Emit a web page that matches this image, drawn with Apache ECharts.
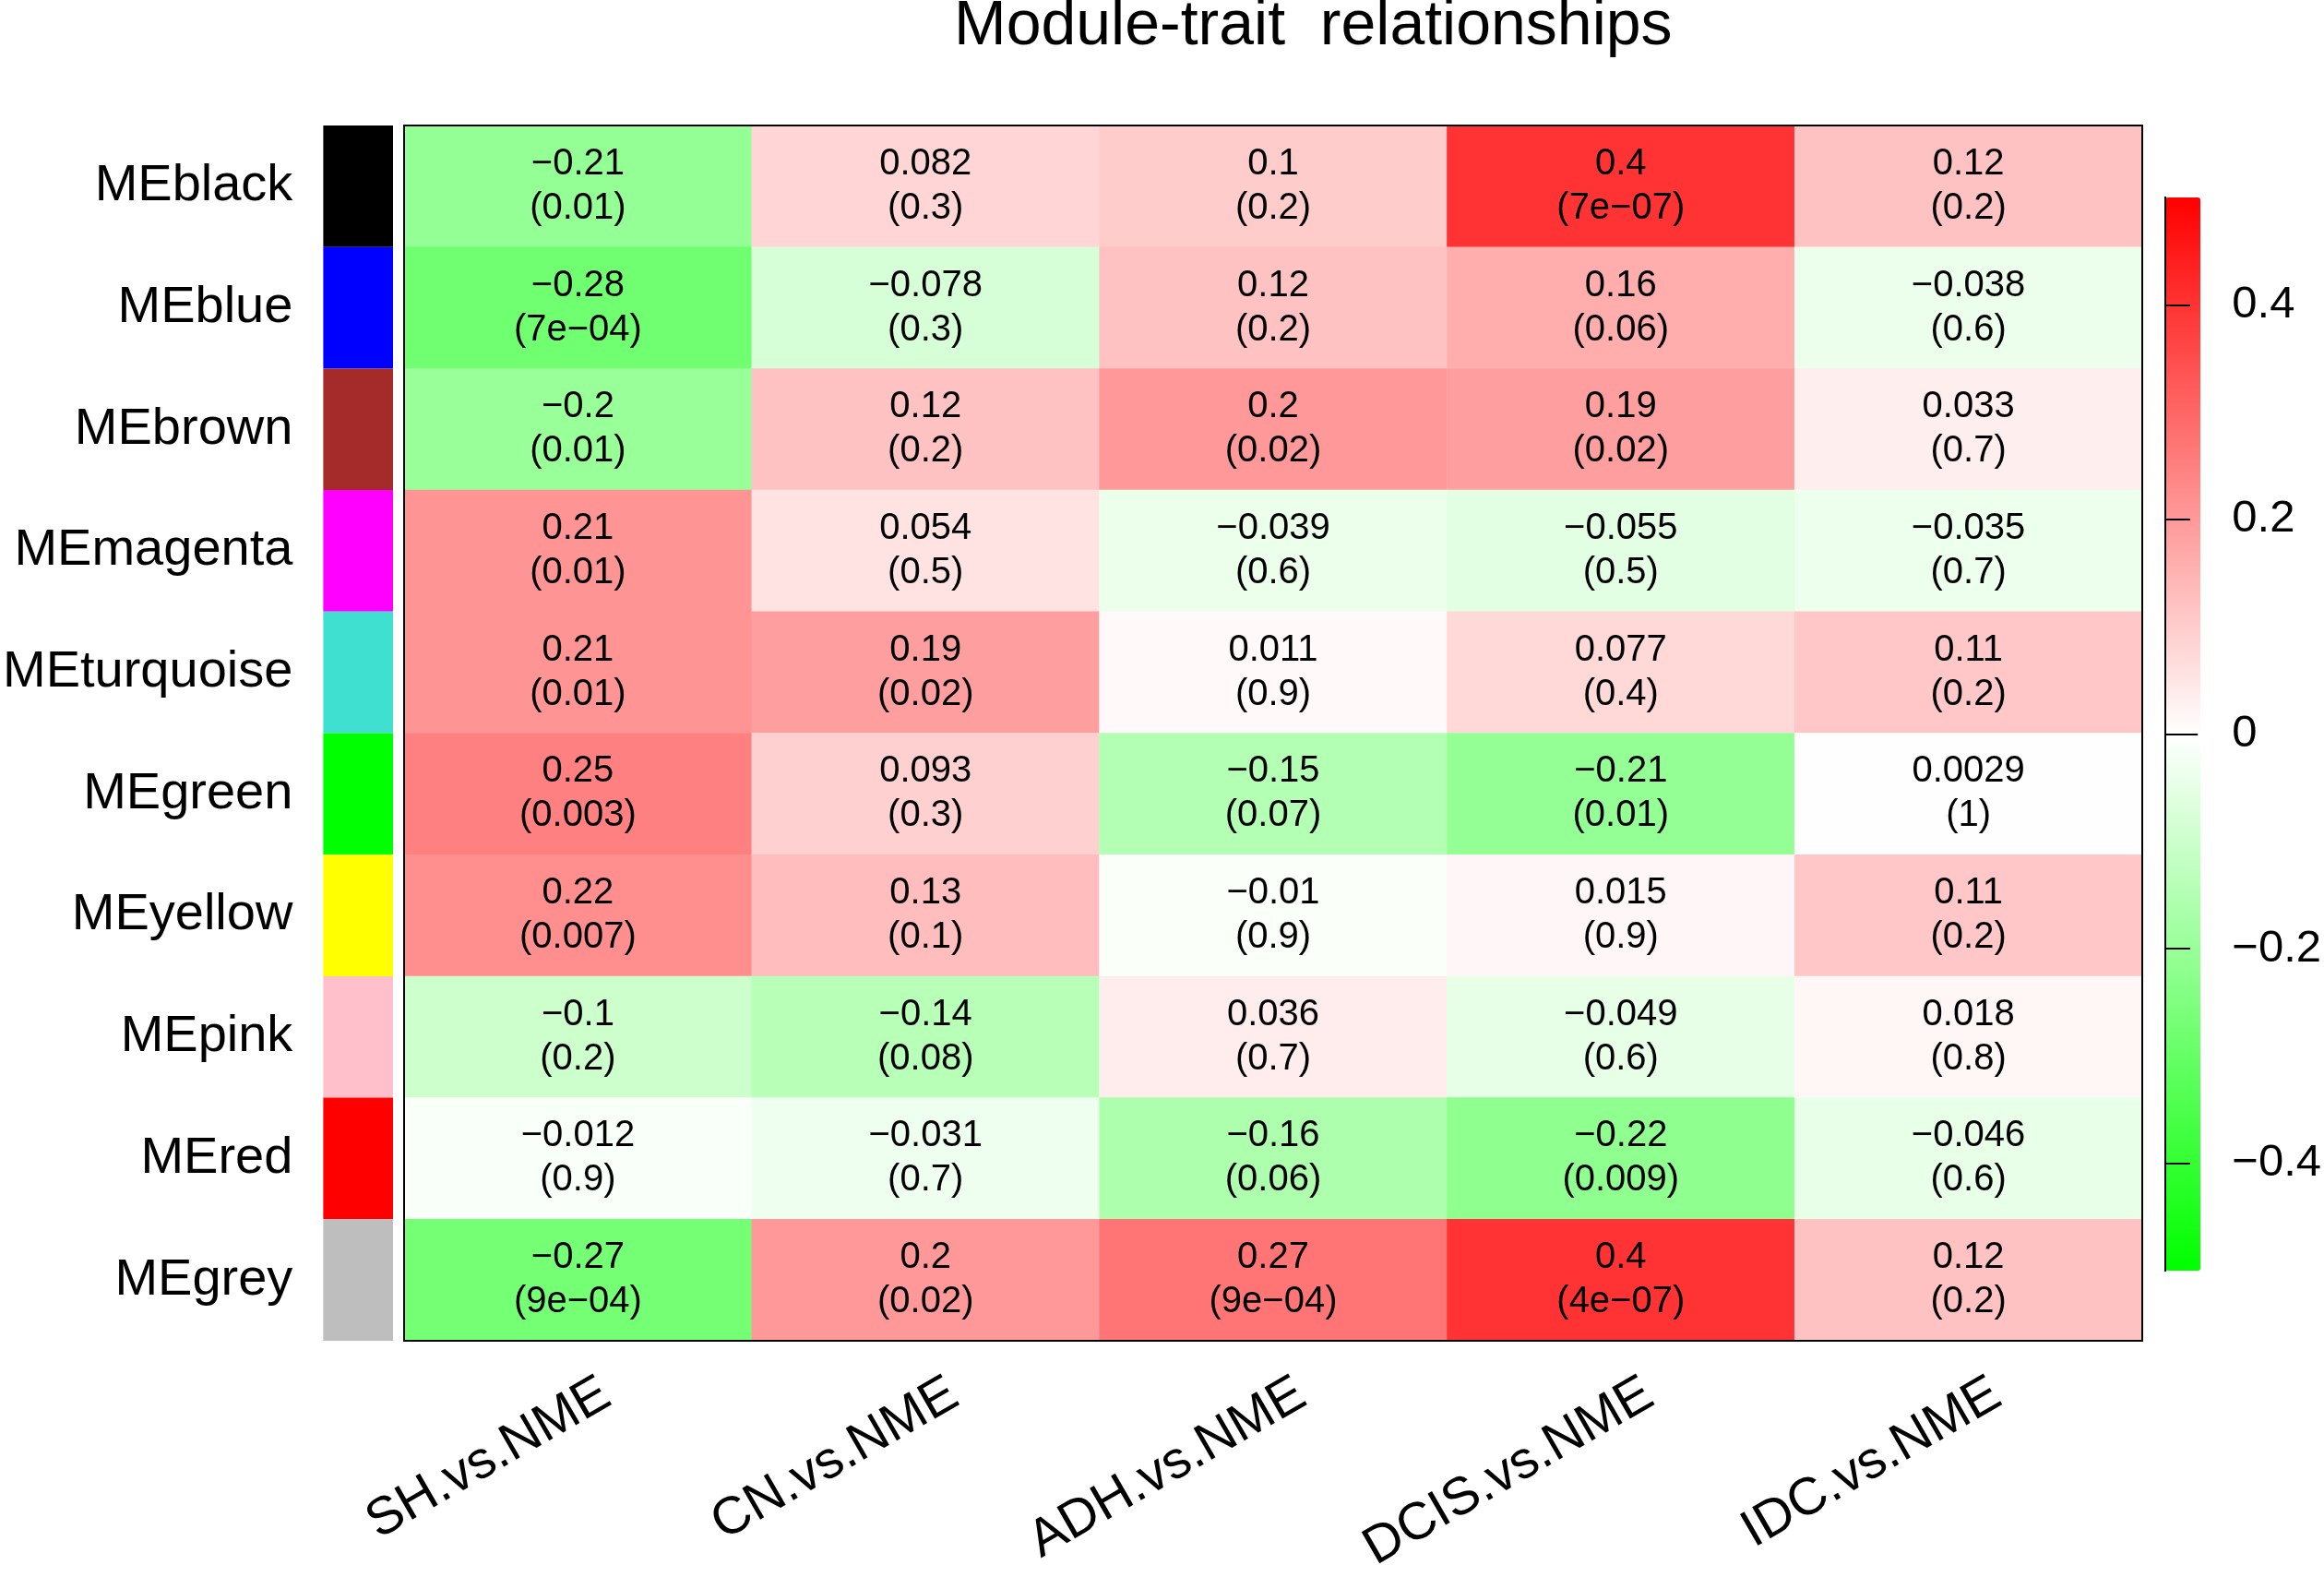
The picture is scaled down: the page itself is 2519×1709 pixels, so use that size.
<!DOCTYPE html>
<html>
<head>
<meta charset="utf-8">
<script src="https://cdn.jsdelivr.net/npm/echarts@6/dist/echarts.min.js"></script>
<style>
html, body { margin: 0; padding: 0; background: #fff; }
#chart { width: 2519px; height: 1709px; }
</style>
</head>
<body>
<div id="chart"></div>
<script>
var modules = ['MEblack', 'MEblue', 'MEbrown', 'MEmagenta', 'MEturquoise',
    'MEgreen', 'MEyellow', 'MEpink', 'MEred', 'MEgrey'];
var moduleColors = ['#000000', '#0000ff', '#a52a2a', '#ff00ff', '#40e0d0',
    '#00ff00', '#ffff00', '#ffc0cb', '#ff0000', '#bebebe'];
var traits = ['SH.vs.NME', 'CN.vs.NME', 'ADH.vs.NME', 'DCIS.vs.NME', 'IDC.vs.NME'];

// correlation per module (rows) and trait (columns)
var cor = [
    [-0.21, 0.082, 0.1, 0.4, 0.12],
    [-0.28, -0.078, 0.12, 0.16, -0.038],
    [-0.2, 0.12, 0.2, 0.19, 0.033],
    [0.21, 0.054, -0.039, -0.055, -0.035],
    [0.21, 0.19, 0.011, 0.077, 0.11],
    [0.25, 0.093, -0.15, -0.21, 0.0029],
    [0.22, 0.13, -0.01, 0.015, 0.11],
    [-0.1, -0.14, 0.036, -0.049, 0.018],
    [-0.012, -0.031, -0.16, -0.22, -0.046],
    [-0.27, 0.2, 0.27, 0.4, 0.12]
];
var pvals = [
    ['0.01', '0.3', '0.2', '7e-07', '0.2'],
    ['7e-04', '0.3', '0.2', '0.06', '0.6'],
    ['0.01', '0.2', '0.02', '0.02', '0.7'],
    ['0.01', '0.5', '0.6', '0.5', '0.7'],
    ['0.01', '0.02', '0.9', '0.4', '0.2'],
    ['0.003', '0.3', '0.07', '0.01', '1'],
    ['0.007', '0.1', '0.9', '0.9', '0.2'],
    ['0.2', '0.08', '0.7', '0.6', '0.8'],
    ['0.9', '0.7', '0.06', '0.009', '0.6'],
    ['9e-04', '0.02', '9e-04', '4e-07', '0.2']
];
var barTicks = [-0.4, -0.2, 0, 0.2, 0.4];

var FONT = 'Liberation Sans';
function minus(s) { return String(s).replace('-', '\u2212'); }

var cells = [];
for (var r = 0; r < modules.length; r++) {
    for (var c = 0; c < traits.length; c++) {
        cells.push([c, r, cor[r][c]]);
    }
}

var chart = echarts.init(document.getElementById('chart'));
var frame = { show: true, lineStyle: { color: '#000', width: 2 } };
var option = {
    animation: false,
    backgroundColor: '#fff',
    textStyle: { fontFamily: FONT },
    title: {
        text: 'Module-trait  relationships',
        left: 1034, top: -5, padding: 0,
        textStyle: { fontFamily: FONT, fontSize: 68, fontWeight: 'normal', color: '#000' }
    },
    grid: [
        { left: 438, top: 136, width: 1884, height: 1317 },
        { left: 350, top: 136, width: 76, height: 1317 },
        { left: 2347, top: 214, width: 38, height: 1163 },
        { left: 469, top: 136, width: 1884, height: 1317 }
    ],
    xAxis: [
        { gridIndex: 0, type: 'category', data: traits, position: 'bottom', z: 10,
          axisLine: frame, axisTick: { show: false }, axisLabel: { show: false } },
        { gridIndex: 0, type: 'category', data: traits, position: 'top', z: 10,
          axisLine: frame, axisTick: { show: false }, axisLabel: { show: false } },
        { gridIndex: 1, type: 'value', min: 0, max: 1, show: false },
        { gridIndex: 2, type: 'value', min: 0, max: 1, position: 'bottom', z: 10,
          axisLine: frame, axisTick: { show: false }, axisLabel: { show: false }, splitLine: { show: false } },
        { gridIndex: 2, type: 'value', min: 0, max: 1, position: 'top', z: 10,
          axisLine: frame, axisTick: { show: false }, axisLabel: { show: false }, splitLine: { show: false } },
        { gridIndex: 3, type: 'category', data: traits, position: 'bottom',
          axisLine: { show: false }, axisTick: { show: false },
          axisLabel: { rotate: 30, margin: 85, fontSize: 57, color: '#000', fontFamily: FONT, interval: 0 } }
    ],
    yAxis: [
        { gridIndex: 0, type: 'category', data: modules, inverse: true, position: 'left', z: 10,
          axisLine: frame, axisTick: { show: false }, axisLabel: { show: false } },
        { gridIndex: 0, type: 'category', data: modules, inverse: true, position: 'right', z: 10,
          axisLine: frame, axisTick: { show: false }, axisLabel: { show: false } },
        { gridIndex: 1, type: 'category', data: modules, inverse: true,
          axisLine: { show: false }, axisTick: { show: false },
          axisLabel: { margin: 33, fontSize: 56, color: '#000', fontFamily: FONT } },
        { gridIndex: 2, type: 'value', min: -0.5, max: 0.5, position: 'right', z: 10,
          axisLine: frame, splitLine: { show: false },
          axisTick: { show: true, length: 27, lineStyle: { color: '#000', width: 2 }, customValues: barTicks },
          axisLabel: { margin: 38, fontSize: 49, color: '#000', fontFamily: FONT, customValues: barTicks,
                       formatter: function (v) { return minus(v); } } },
        { gridIndex: 2, type: 'value', min: -0.5, max: 0.5, position: 'left', z: 10,
          axisLine: frame, axisTick: { show: false }, axisLabel: { show: false }, splitLine: { show: false } },
        { gridIndex: 3, type: 'category', data: modules, show: false }
    ],
    visualMap: {
        type: 'continuous', seriesIndex: 0, min: -0.5, max: 0.5,
        calculable: false, orient: 'vertical', left: 2347, top: 214,
        itemWidth: 38, itemHeight: 1163, padding: 0, text: null, hoverLink: false,
        inRange: { color: ['#00ff00', '#ffffff', '#ff0000'] }
    },
    series: [
        {
            type: 'heatmap', xAxisIndex: 0, yAxisIndex: 0, data: cells,
            label: {
                show: true, fontSize: 40, lineHeight: 48, color: '#000', fontFamily: FONT,
                padding: [10, 0, 0, 0],
                formatter: function (p) {
                    var row = p.data[1], col = p.data[0];
                    return minus(cor[row][col]) + '\n(' + minus(pvals[row][col]) + ')';
                }
            }
        },
        {
            type: 'bar', xAxisIndex: 2, yAxisIndex: 2, barCategoryGap: '0%',
            data: moduleColors.map(function (col) { return { value: 1, itemStyle: { color: col } }; })
        }
    ]
};
chart.setOption(option);
</script>
</body>
</html>
